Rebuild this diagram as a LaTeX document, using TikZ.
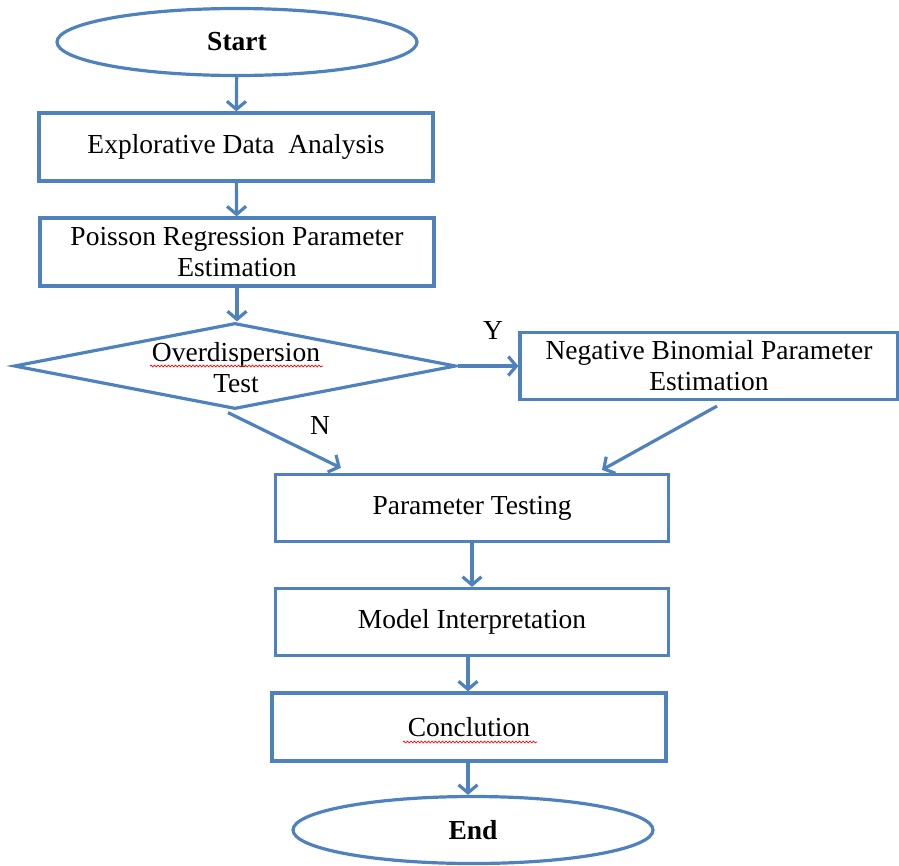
\documentclass[tikz,border=0pt]{standalone}
\usepackage{fontspec}
\setmainfont{Liberation Serif}
\usetikzlibrary{shapes.geometric,arrows.meta,calc,decorations.pathmorphing}
\definecolor{wblue}{HTML}{4F81BD}
\begin{document}
\begin{tikzpicture}[x=1pt,y=-1pt,
  every node/.style={font=\fontsize{27.5}{31}\selectfont},
  boxnode/.style={draw=wblue,line width=3.2pt,rectangle,minimum width=394pt,minimum height=68pt,inner sep=0pt,align=center},
  termnode/.style={draw=wblue,line width=3.2pt,ellipse,minimum width=360pt,minimum height=67pt,inner sep=0pt,font=\fontsize{27.5}{31}\selectfont\bfseries},
  arr/.style={draw=wblue,line width=3.2pt,-{Straight Barb[length=8pt,width=19pt]}},
  spell/.style={draw=red,line width=0.7pt,decorate,decoration={snake,amplitude=0.9pt,segment length=3.5pt}}
]
\useasboundingbox (0,0) rectangle (899,865);
\node[termnode] (start) at (237,42) {Start};
\node[boxnode] (eda) at (236,147) {Explorative Data\ \ Analysis};
\node[boxnode] (prpe) at (237,252) {Poisson Regression Parameter\\Estimation};
\node[draw=wblue,line width=3.2pt,diamond,minimum width=442pt,minimum height=86pt,inner sep=0pt] (dia) at (235,366) {};
\node[align=center] (dtext) at (236,368) {Overdispersion\\Test};
\node[boxnode,minimum width=378pt,minimum height=67pt] (nb) at (709,366) {Negative Binomial Parameter\\Estimation};
\node[boxnode,minimum width=393pt,minimum height=67pt] (pt) at (472,508) {Parameter Testing};
\node[boxnode,minimum width=393pt,minimum height=67pt] (mi) at (472,622) {Model Interpretation};
\node[boxnode,minimum width=394pt,minimum height=68pt] (cl) at (469,727) {Conclution};
\node[termnode] (end) at (473,830) {End};
\node (ylab) at (493,330) {Y};
\node (nlab) at (320,425) {N};

\draw[arr] (start) -- (eda);
\draw[arr] (eda) -- (prpe);
\draw[arr] ($(prpe.south)+(0,0)$) -- ($(dia.north)+(2,0)$);
\draw[arr] (dia.east) -- (nb.west);
\draw[arr] ($(dia.south)+(-7,2)$) -- ($(pt.north west)+(67,-5)$);
\draw[arr] ($(nb.south)+(8,5)$) -- ($(pt.north)+(130,-3)$);
\draw[arr] (pt.south) -- (mi.north);
\draw[arr] ($(mi.south)+(-4,0)$) -- ($(cl.north)+(-1,0)$);
\draw[arr] ($(cl.south)+(-1,0)$) -- ($(end.north)+(-5,0)$);

\draw[spell] ($(dtext.center)+(-86,-2)$) -- ($(dtext.center)+(87,-2)$);
\draw[spell] ($(cl.center)+(-66,15)$) -- ($(cl.center)+(68,15)$);
\end{tikzpicture}
\end{document}
